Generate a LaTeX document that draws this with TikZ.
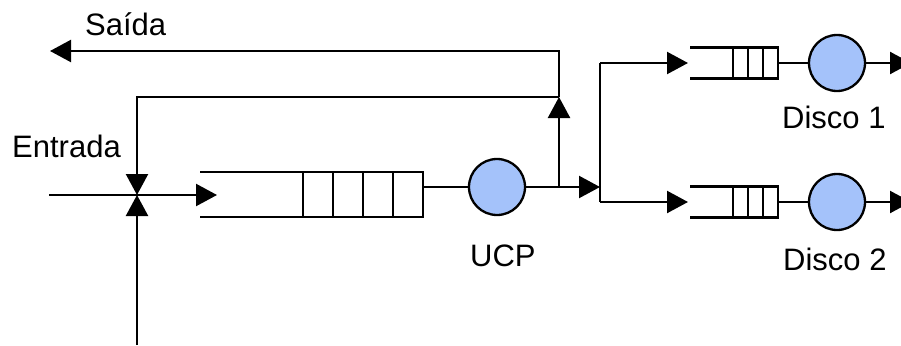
\documentclass[tikz,border=0pt]{standalone}
\usepackage{fontspec}
\setmainfont{Liberation Sans}
\usetikzlibrary{arrows.meta}
\definecolor{svc}{RGB}{164,194,250}
\tikzset{
  ln/.style={line width=2.3pt, line cap=butt, line join=miter},
  arr/.style={ln, -{Triangle[length=21pt,width=22pt]}},
  srv/.style={circle, draw, line width=2.3pt, fill=svc, minimum size=56pt, inner sep=0pt},
  lbl/.style={font=\fontsize{31}{36}\selectfont, inner sep=0pt, anchor=base west},
}
\begin{document}
\begin{tikzpicture}[x=1pt,y=-1pt]
\useasboundingbox (0,0) rectangle (901,345);
% labels
\node[lbl] (lsaida) at (85,36) {Saída};
\node[lbl] (lentrada) at (12,157) {Entrada};
\node[lbl] (lucp) at (470,266) {UCP};
\node[lbl] (ld1) at (782,128) {Disco 1};
\node[lbl] (ld2) at (783,270) {Disco 2};
% coordinates
\coordinate (out) at (50,51);
\coordinate (top) at (559,51);
\coordinate (fork) at (559,97);
\coordinate (fbl) at (137,97);
\coordinate (join) at (137,195);
\coordinate (bot) at (137,345);
\coordinate (inl) at (49,195);
\coordinate (q1in) at (217,195);
\coordinate (q1out) at (423,187);
\coordinate (cpuo) at (559,187);
\coordinate (split) at (600,187);
\coordinate (s1) at (600,63);
\coordinate (s2) at (600,202);
\coordinate (d1in) at (688,63);
\coordinate (d2in) at (688,202);
\coordinate (d1q) at (778,63);
\coordinate (d2q) at (778,202);
\coordinate (d1o) at (911,63);
\coordinate (d2o) at (911,202);
% servers
\node[srv] (cpu) at (497,187) {};
\node[srv] (disk1) at (837,63) {};
\node[srv] (disk2) at (837,202) {};
% CPU queue
\draw[ln] (200,172) -- (423,172) -- (423,217) -- (200,217);
\foreach \x in {303,333,363,393} \draw[ln] (\x,172) -- (\x,217);
% disk queues
\foreach \y in {63,202} {
  \draw[ln] (690,\y-15.5) -- (778,\y-15.5) -- (778,\y+15.5) -- (690,\y+15.5);
  \foreach \x in {733,748,763} \draw[ln] (\x,\y-15.5) -- (\x,\y+15.5);
}
% connectors
\draw[ln] (q1out) -- (cpu);
\draw[ln] (cpu) -- (cpuo);
\draw[arr] (cpuo) -- (split);
\draw[arr] (cpuo) -- (fork);
\draw[arr] (fork) -- (top) -- (out);
\draw[arr] (fork) -- (fbl) -- (join);
\draw[arr] (bot) -- (join);
\draw[arr] (inl) -- (q1in);
\draw[ln] (s1) -- (s2);
\draw[arr] (s1) -- (d1in);
\draw[arr] (s2) -- (d2in);
\draw[ln] (d1q) -- (disk1);
\draw[ln] (d2q) -- (disk2);
\draw[arr] (disk1) -- (d1o);
\draw[arr] (disk2) -- (d2o);
\end{tikzpicture}
\end{document}
